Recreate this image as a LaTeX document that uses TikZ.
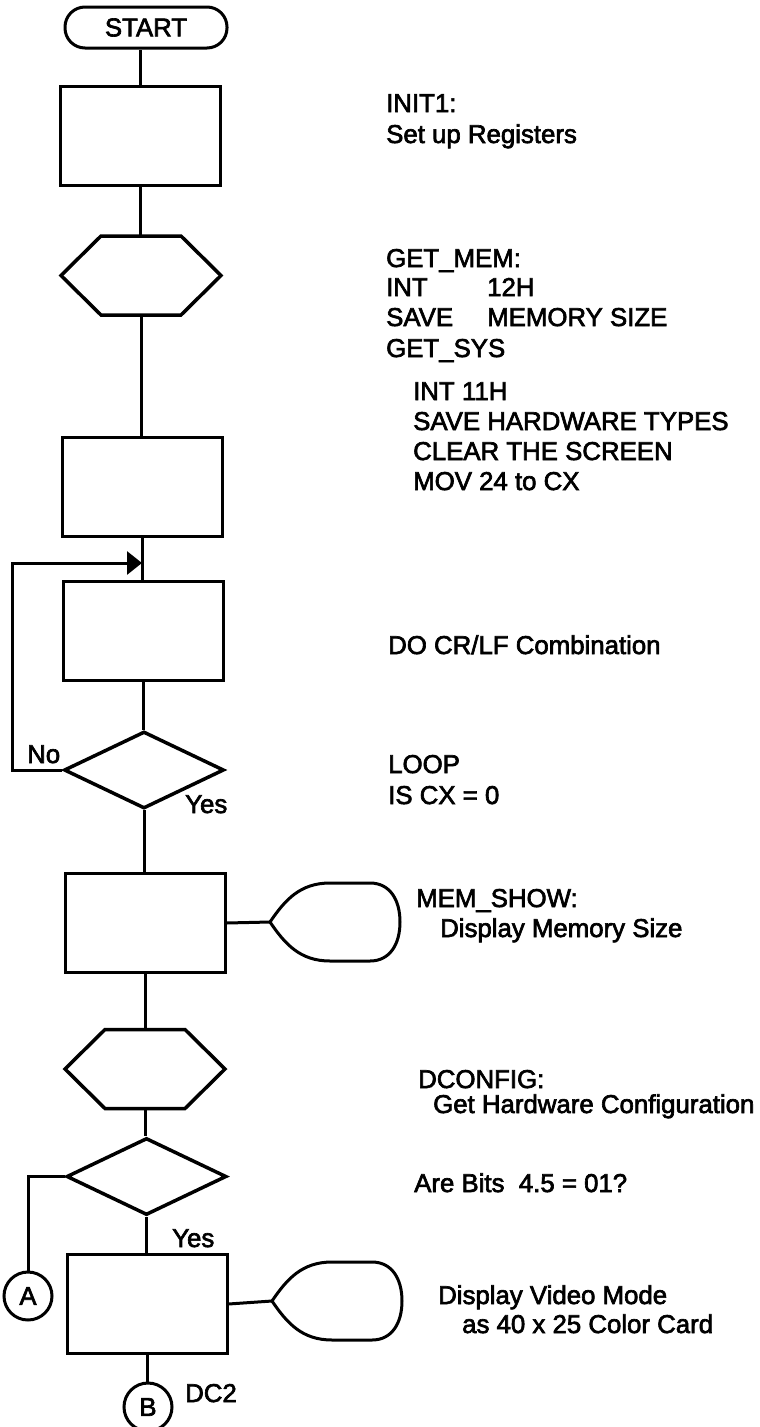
\documentclass[tikz,border=0pt]{standalone}
\usepackage{fontspec}
\setmainfont{Liberation Sans}
\newfontfamily\hvfont{Liberation Sans}[FakeBold=2.5]
\usetikzlibrary{shapes.geometric,arrows.meta,calc}
\begin{document}
\begin{tikzpicture}[x=1pt,y=-1pt,
  every node/.style={font=\hvfont\fontsize{25.8}{30}\selectfont},
  ln/.style={line width=3pt},
  proc/.style={draw,line width=3pt,rectangle,minimum width=160pt,minimum height=99pt,inner sep=0pt},
  hexa/.style={rectangle,minimum width=160pt,minimum height=79pt,inner sep=0pt,outer sep=0pt},
  dec/.style={draw,line width=3.5pt,diamond,minimum width=160pt,minimum height=77pt,inner sep=0pt},
  term/.style={draw,line width=3pt,rounded corners=20pt,minimum width=162pt,minimum height=41pt,inner sep=0pt},
  conn/.style={draw,line width=3pt,circle,minimum size=48pt,inner sep=0pt},
  txt/.style={anchor=base west,inner sep=0pt},
  hexline/.style={line width=3.5pt,line join=miter},
  disp/.style={line width=3pt,line cap=round,line join=round},
]
\useasboundingbox (0,0) rectangle (760,1427);
% flow nodes
\node[term] (start) at (146,27.5) {START};
\node[proc] (b1) at (140,135.5) {};
\node[hexa] (h1) at (141,275.5) {};
\node[proc] (b2) at (142,487) {};
\node[proc] (b3) at (143,630.5) {};
\node[dec] (d1) at (144,770) {};
\node[proc] (b4) at (145,923) {};
\node[hexa] (h2) at (145,1069) {};
\node[dec] (d2) at (146.5,1176.5) {};
\node[proc] (b5) at (147,1304) {};
\node[conn] (A) at (28,1296) {A};
\node[conn] (B) at (148,1407) {B};
\coordinate (o1) at (270,922);
\coordinate (o2) at (272,1301);
\coordinate (lp) at (142,563);
\coordinate (lc) at (12,563);
% hexagons
\foreach \h in {h1,h2}
  \draw[hexline] (\h.west) -- ($(\h.north west)+(40,0)$) -- ($(\h.north east)+(-40,0)$) -- (\h.east)
    -- ($(\h.south east)+(-40,0)$) -- ($(\h.south west)+(40,0)$) -- cycle;
% display shapes
\foreach \o in {o1,o2}
  \draw[disp] (\o) .. controls ($(\o)+(15,-22)$) and ($(\o)+(30,-39)$) .. ($(\o)+(60,-39)$)
    -- ($(\o)+(100,-39)$) .. controls ($(\o)+(120,-39)$) and ($(\o)+(130,-22)$) .. ($(\o)+(130,0)$)
    .. controls ($(\o)+(130,22)$) and ($(\o)+(120,39)$) .. ($(\o)+(100,39)$)
    -- ($(\o)+(60,39)$) .. controls ($(\o)+(30,39)$) and ($(\o)+(15,22)$) .. (\o);
% connectors
\draw[ln] (b1.north) -- (b1.north |- start.south);
\draw[ln] (b1.south) -- (b1.south |- h1.north);
\draw[ln] (h1.south) -- (h1.south |- b2.north);
\draw[ln] (b2.south) -- (b2.south |- b3.north);
\draw[ln] (b3.south) -- (b3.south |- d1.north);
\draw[ln] (d1.south) -- (d1.south |- b4.north);
\draw[ln] (b4.south) -- (b4.south |- h2.north);
\draw[ln] (h2.south) -- (h2.south |- d2.north);
\draw[ln] (d2.south) -- (d2.south |- b5.north);
\draw[ln] (b5.south) -- (b5.south |- B.north);
\draw[ln] (b4.east) -- (o1);
\draw[ln] (b5.east) -- (o2);
\draw[ln] (d2.west) -| (A.north);
\draw[ln,-{Triangle[length=15pt,width=23pt]}] (d1.west) -| (lc) -- (lp);
% branch labels
\node[txt] (no) at (27,763) {No};
\node[txt] (yes1) at (185,813) {Yes};
\node[txt] (yes2) at (172,1247) {Yes};
\node[txt] (dc2) at (185,1402) {DC2};
% descriptions
\node[txt] (i1) at (386,112) {INIT1:};
\node[txt] (i2) at (386,143) {Set up Registers};
\node[txt] (g1) at (386,267) {GET\_MEM:};
\node[txt] (g2) at (386,296) {INT};
\node[txt] (g2b) at (487,296) {12H};
\node[txt] (g3) at (386,326) {SAVE};
\node[txt] (g3b) at (487,326) {MEMORY SIZE};
\node[txt] (g4) at (386,357) {GET\_SYS};
\node[txt] (s1) at (413,400) {INT 11H};
\node[txt] (s2) at (413,430) {SAVE HARDWARE TYPES};
\node[txt] (s3) at (413,460) {CLEAR THE SCREEN};
\node[txt] (s4) at (413,490) {MOV 24 to CX};
\node[txt] (cr) at (388,654) {DO CR/LF Combination};
\node[txt] (lo1) at (388,773) {LOOP};
\node[txt] (lo2) at (388,804) {IS CX = 0};
\node[txt] (m1) at (416,907) {MEM\_SHOW:};
\node[txt] (m2) at (440,937) {Display Memory Size};
\node[txt] (c1) at (418,1088) {DCONFIG:};
\node[txt] (c2) at (433,1113) {Get Hardware Configuration};
\node[txt] (ab) at (414,1192) {Are Bits\ \ 4.5 = 01?};
\node[txt] (v1) at (438,1304) {Display Video Mode};
\node[txt] (v2) at (462,1333) {as 40 x 25 Color Card};
\end{tikzpicture}
\end{document}
